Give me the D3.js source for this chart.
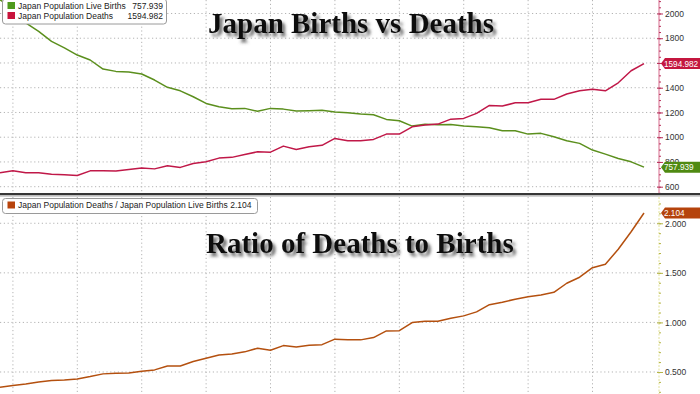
<!DOCTYPE html>
<html>
<head>
<meta charset="utf-8">
<script src="https://cdn.jsdelivr.net/npm/d3@7"></script>
<style>
  body { margin: 0; background: #fff; }
  svg { display: block; font-family: "Liberation Sans", Arial, sans-serif; }
  .grid line { stroke: #b4b4b4; stroke-dasharray: 1.2,2.6; }
  .tick text { fill: #333; font-size: 8.5px; }
</style>
</head>
<body>
<div id="chart"></div>
<script>
// 1. Data (thousands), one point per year 1973..2023
const years = d3.range(1973, 2024)

const births = [
  2110, 2045, 1925, 1855, 1775, 1722, 1664, 1624, 1551, 1532,
  1527, 1511, 1462, 1403, 1375, 1327, 1273, 1246, 1230, 1233,
  1209, 1233, 1227, 1211, 1214, 1217, 1203, 1197, 1187, 1181,
  1144, 1133, 1090, 1104, 1100, 1102, 1090, 1084, 1076, 1052,
  1052, 1025, 1031, 1003, 971, 950, 896, 863, 828, 801, 758,
]

const deaths = [
  712, 728, 712, 712, 701, 696, 691, 728, 728, 726,
  739, 752, 744, 769, 756, 788, 801, 831, 837, 861,
  882, 879, 928, 901, 922, 934, 990, 971, 971, 982,
  1025, 1025, 1084, 1098, 1106, 1146, 1152, 1193, 1257, 1252,
  1278, 1278, 1306, 1306, 1349, 1375, 1387, 1375, 1440, 1537, 1595,
]

const ratio = [
  0.347, 0.363, 0.380, 0.400, 0.413, 0.420, 0.430, 0.454, 0.481, 0.488,
  0.491, 0.508, 0.521, 0.561, 0.561, 0.605, 0.639, 0.672, 0.682, 0.703,
  0.740, 0.720, 0.766, 0.753, 0.770, 0.776, 0.831, 0.824, 0.824, 0.847,
  0.914, 0.917, 0.998, 1.012, 1.012, 1.042, 1.066, 1.106, 1.179, 1.204,
  1.234, 1.260, 1.277, 1.304, 1.395, 1.456, 1.552, 1.587, 1.738, 1.915, 2.104,
]

const lastValues = { births: "757.939", deaths: "1594.982", ratio: "2.104" }
const topTicks = [600, 800, 1000, 1200, 1400, 1600, 1800, 2000]
const bottomTicks = [0.5, 1.0, 1.5, 2.0]
const gridYears = [1975, 1980, 1985, 1990, 1995, 2000, 2005, 2010, 2015, 2020]

const dateAccessor = (d, i) => Date.UTC(years[i], 11, 31)

// 2. Dimensions
const dimensions = {
  width: 700,
  height: 394,
  axisX: 659,
  top: { y0: 0, y1: 193 },
  bottom: { y0: 197, y1: 394 },
}

// 3. Canvas
const wrapper = d3.select("#chart")
  .append("svg")
    .attr("width", dimensions.width)
    .attr("height", dimensions.height)

wrapper.append("rect")
    .attr("width", dimensions.width)
    .attr("height", dimensions.height)
    .attr("fill", "#fff")

const defs = wrapper.append("defs")
defs.append("filter")
    .attr("id", "title-shadow")
    .attr("x", "-10%").attr("y", "-30%")
    .attr("width", "130%").attr("height", "180%")
  .append("feDropShadow")
    .attr("dx", 3)
    .attr("dy", 3.5)
    .attr("stdDeviation", 1.8)
    .attr("flood-color", "#444")
    .attr("flood-opacity", 0.75)

// 4. Scales
const xScale = d3.scaleUtc()
  .domain([Date.UTC(1973, 11, 31), Date.UTC(2023, 11, 31)])
  .range([0, 644])

const yTop = d3.scaleLinear()
  .domain([549, 2109])
  .range([dimensions.top.y1, dimensions.top.y0])

const yBottom = d3.scaleLinear()
  .domain([0.278, 2.265])
  .range([dimensions.bottom.y1, dimensions.bottom.y0])

// 5. Grid
function drawGrid(panel, yScale, ticks) {
  const g = wrapper.append("g").attr("class", "grid")
  g.selectAll(".v")
    .data(gridYears)
    .join("line")
      .attr("x1", d => xScale(Date.UTC(d, 0, 1)))
      .attr("x2", d => xScale(Date.UTC(d, 0, 1)))
      .attr("y1", panel.y0)
      .attr("y2", panel.y1)
  g.selectAll(".h")
    .data(ticks)
    .join("line")
      .attr("x1", 0)
      .attr("x2", dimensions.axisX)
      .attr("y1", d => yScale(d))
      .attr("y2", d => yScale(d))
}
drawGrid(dimensions.top, yTop, topTicks)
drawGrid(dimensions.bottom, yBottom, bottomTicks)

// 6. Lines
const topClip = defs.append("clipPath").attr("id", "top-clip")
topClip.append("rect")
    .attr("width", dimensions.axisX)
    .attr("height", dimensions.top.y1)
const bottomClip = defs.append("clipPath").attr("id", "bottom-clip")
bottomClip.append("rect")
    .attr("y", dimensions.bottom.y0)
    .attr("width", dimensions.axisX)
    .attr("height", dimensions.bottom.y1 - dimensions.bottom.y0)

function drawLine(values, yScale, color, clipId) {
  const lineGenerator = d3.line()
    .x((d, i) => xScale(dateAccessor(d, i)))
    .y(d => yScale(d))
  wrapper.append("path")
      .attr("clip-path", `url(#${clipId})`)
      .attr("d", lineGenerator(values))
      .attr("fill", "none")
      .attr("stroke", color)
      .attr("stroke-width", 1.5)
      .attr("stroke-linejoin", "round")
}
drawLine(births, yTop, "#5b8f1d", "top-clip")
drawLine(deaths, yTop, "#c01848", "top-clip")
drawLine(ratio, yBottom, "#b4500f", "bottom-clip")

// 7. Right axes
function drawAxis(panel, yScale, ticks, minorStep, format, lineColor, tickColor, dashed) {
  const g = wrapper.append("g")
      .attr("transform", `translate(${dimensions.axisX}, 0)`)
  g.append("line")
      .attr("y1", panel.y0)
      .attr("y2", panel.y1)
      .attr("stroke", lineColor)
      .attr("stroke-dasharray", dashed ? "2,1.5" : null)

  const [lo, hi] = yScale.domain()
  const minor = d3.range(Math.ceil(lo / minorStep) * minorStep, hi, minorStep)
  g.append("g")
    .call(d3.axisRight(yScale).tickValues(minor).tickSize(2).tickFormat(""))
    .call(s => s.select(".domain").remove())
    .call(s => s.selectAll(".tick line").attr("stroke", tickColor))

  g.append("g")
    .call(d3.axisRight(yScale).tickValues(ticks).tickSize(4).tickPadding(2).tickFormat(format))
    .call(s => s.select(".domain").remove())
    .call(s => s.selectAll(".tick line").attr("stroke", tickColor).attr("x1", -2))
}
drawAxis(dimensions.top, yTop, topTicks, 50, d3.format("d"), "#d66a8c", "#b8305a", false)
drawAxis(dimensions.bottom, yBottom, bottomTicks, 0.1, d3.format(".3f"), "#e2e29a", "#b5b545", true)

// 8. Divider between panels
wrapper.append("rect")
    .attr("x", 0).attr("y", 193)
    .attr("width", dimensions.width).attr("height", 2.4)
    .attr("fill", "#363636")
wrapper.append("rect")
    .attr("x", 0).attr("y", 195.4)
    .attr("width", dimensions.width).attr("height", 1.4)
    .attr("fill", "#c9c9c9")

// 9. Last value tags
function drawTag(value, label, yScale, color) {
  const cy = yScale(value)
  const h = 11
  const x0 = dimensions.axisX + 2
  wrapper.append("path")
      .attr("d", `M${x0},${cy} L${x0 + 4},${cy - h / 2} L700,${cy - h / 2} L700,${cy + h / 2} L${x0 + 4},${cy + h / 2} Z`)
      .attr("fill", color)
  wrapper.append("text")
      .attr("x", x0 + 3)
      .attr("y", cy + 3)
      .attr("fill", "#fff")
      .style("font-size", "8.2px")
      .text(label)
}
drawTag(births[births.length - 1], lastValues.births, yTop, "#4f8a12")
drawTag(deaths[deaths.length - 1], lastValues.deaths, yTop, "#c4173f")
drawTag(ratio[ratio.length - 1], lastValues.ratio, yBottom, "#b5430c")

// 10. Legends
function drawLegend(y, w, rows) {
  const g = wrapper.append("g")
  g.append("rect")
      .attr("x", 2.5).attr("y", y)
      .attr("width", w).attr("height", rows.length * 10 + 5)
      .attr("rx", 3)
      .attr("fill", "#fff")
      .attr("stroke", "#9a9a9a")
  rows.forEach((r, i) => {
    const ry = y + 3 + i * 10
    g.append("rect")
        .attr("x", 7.5).attr("y", ry)
        .attr("width", 7.5).attr("height", 7)
        .attr("fill", r.color)
    g.append("text")
        .attr("x", 18).attr("y", ry + 6.8)
        .attr("fill", "#222")
        .style("font-size", "8.5px")
        .text(r.name)
    if (r.valueX) {
      g.append("text")
          .attr("x", r.valueX).attr("y", ry + 6.8)
          .attr("text-anchor", "end")
          .attr("fill", "#222")
          .style("font-size", "8.5px")
          .text(r.value)
    }
  })
}
drawLegend(-1, 164, [
  { name: "Japan Population Live Births", value: lastValues.births, valueX: 163, color: "#4f9a1c" },
  { name: "Japan Population Deaths", value: lastValues.deaths, valueX: 163, color: "#c8143c" },
])
drawLegend(198.5, 255, [
  { name: `Japan Population Deaths / Japan Population Live Births  ${lastValues.ratio}`, color: "#b8440c" },
])

// 11. Titles
function drawTitle(text, x, y) {
  wrapper.append("text")
      .attr("x", x).attr("y", y)
      .attr("fill", "#111")
      .attr("filter", "url(#title-shadow)")
      .style("font-family", "'Liberation Serif', 'Times New Roman', serif")
      .style("font-weight", "bold")
      .style("font-size", "29px")
      .text(text)
}
drawTitle("Japan Births vs Deaths", 208, 33)
drawTitle("Ratio of Deaths to Births", 206, 253)
</script>
</body>
</html>
